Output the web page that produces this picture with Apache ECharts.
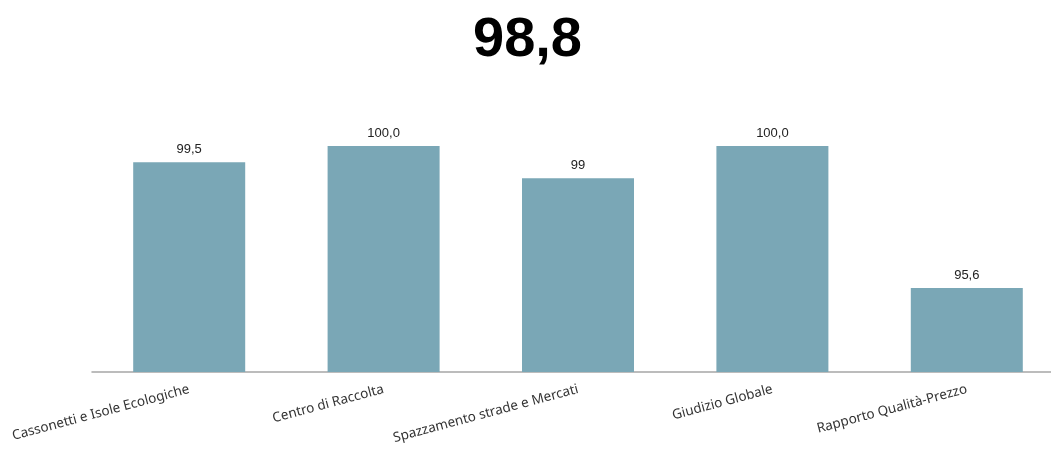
<!DOCTYPE html>
<html>
<head>
<meta charset="utf-8">
<script src="https://cdn.jsdelivr.net/npm/echarts@6/dist/echarts.min.js"></script>
<style>html,body{margin:0;padding:0;background:#fff;overflow:hidden;}#c{width:1065px;height:467px;}</style>
</head>
<body>
<div id="c"></div>
<script>
const titleText = "98,8";
const categories = ["Cassonetti e Isole Ecologiche", "Centro di Raccolta", "Spazzamento strade e Mercati", "Giudizio Globale", "Rapporto Qualità-Prezzo"];
const values = [99.5, 100.0, 99, 100.0, 95.6];
const valueLabels = ["99,5", "100,0", "99", "100,0", "95,6"];

const chart = echarts.init(document.getElementById('c'));
chart.setOption({
  animation: false,
  title: {
    text: titleText,
    left: 468,
    top: 8,
    textStyle: { fontFamily: 'Liberation Sans', fontWeight: 'bold', fontSize: 56, color: '#000' }
  },
  grid: { left: 92, top: 146, right: 1, height: 226, containLabel: false },
  xAxis: {
    type: 'category',
    data: categories,
    axisLine: { lineStyle: { color: '#a6a6a6', width: 1.5 } },
    axisTick: { show: false },
    axisLabel: {
      rotate: 15,
      interval: 0,
      margin: 17,
      fontFamily: 'Noto Sans',
      fontSize: 13.5,
      color: '#333'
    }
  },
  yAxis: {
    type: 'value',
    min: 93,
    max: 100,
    show: false,
    splitLine: { show: false }
  },
  series: [{
    type: 'bar',
    data: values,
    barWidth: 112,
    itemStyle: { color: '#7aa7b6' },
    label: {
      show: true,
      position: 'top',
      distance: 6,
      fontFamily: 'Liberation Sans',
      fontSize: 13,
      color: '#222',
      formatter: p => valueLabels[p.dataIndex]
    }
  }]
});
</script>
</body>
</html>
